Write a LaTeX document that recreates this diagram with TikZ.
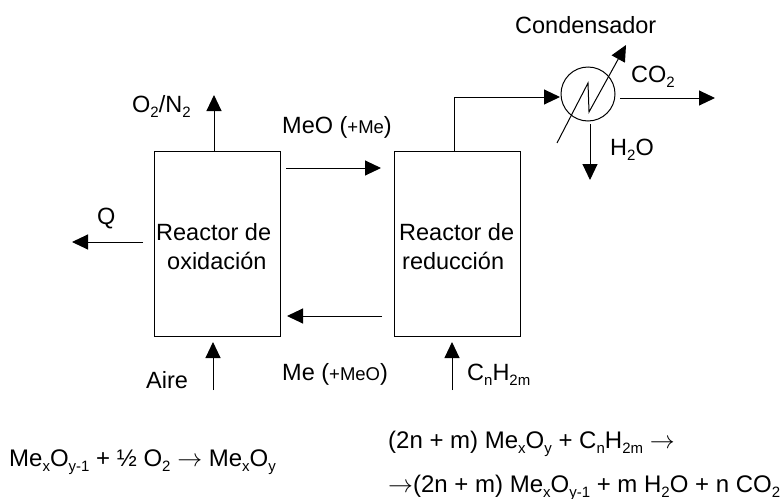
\documentclass[tikz,border=0pt]{standalone}
\usepackage{fontspec}
\setmainfont{Liberation Sans}
\usetikzlibrary{arrows.meta}
\newcommand{\sbs}[1]{\raisebox{-5.5pt}{\fontsize{15}{15}\selectfont #1}}
\newcommand{\smt}[1]{{\fontsize{18.5}{18.5}\selectfont #1}}
\newcommand{\arr}{$\rightarrow$}
\tikzset{
  pxtext/.style={inner sep=0pt,anchor=base west,font=\fontsize{23.5}{29}\selectfont},
  eqtext/.style={inner sep=0pt,anchor=base west,font=\fontsize{24}{29}\selectfont},
  reactor/.style={draw,line width=1pt,minimum width=126pt,minimum height=185pt,inner sep=0pt},
  flow/.style={line width=1pt,-{Triangle[length=16pt,width=15pt]}},
}
\begin{document}
\begin{tikzpicture}[x=1pt,y=-1pt]
\useasboundingbox (0,0) rectangle (781,498);
\node[reactor] (ox) at (217,243.5) {};
\node[reactor] (red) at (457,243.5) {};
\node[draw,circle,line width=1pt,minimum size=54pt,inner sep=0pt] (cond) at (588,94) {};
\coordinate (o2end) at (214,95);
\coordinate (qs) at (143,242); \coordinate (qe) at (72,242);
\coordinate (ms) at (286,168); \coordinate (me) at (381,168);
\coordinate (ns) at (382,316); \coordinate (ne) at (287,316);
\coordinate (as) at (213,390); \coordinate (ae) at (213,342);
\coordinate (cs) at (452,390); \coordinate (ce) at (452,342);
\coordinate (corner) at (454,97);
\coordinate (cin) at (560,97);
\coordinate (co2s) at (620,98); \coordinate (co2e) at (715,98);
\coordinate (hs) at (590,124); \coordinate (he) at (590,180);
\coordinate (z0) at (557,143); \coordinate (z1) at (588,83); \coordinate (z2) at (589,112); \coordinate (z3) at (626,45);
\draw[flow] (ox.north -| o2end) -- (o2end);
\draw[flow] (qs) -- (qe);
\draw[flow] (ms) -- (me);
\draw[flow] (ns) -- (ne);
\draw[flow] (as) -- (ae);
\draw[flow] (cs) -- (ce);
\draw[flow] (red.north -| corner) -- (corner) -- (cin);
\draw[flow] (co2s) -- (co2e);
\draw[flow] (hs) -- (he);
\draw[flow] (z0) -- (z1) -- (z2) -- (z3);
\node[pxtext] (r1) at (156,240) {Reactor de};
\node[pxtext] (r2) at (167,269) {oxidación};
\node[pxtext] (r3) at (399,240) {Reactor de};
\node[pxtext] (r4) at (402,269) {reducción};
\node[pxtext] (t1) at (515,33) {Condensador};
\node[pxtext] (t2) at (631,82) {CO\sbs{2}};
\node[pxtext] (t3) at (610,155) {H\sbs{2}O};
\node[pxtext] (t4) at (132,112) {O\sbs{2}/N\sbs{2}};
\node[pxtext] (t5) at (282,133) {MeO (\smt{+Me})};
\node[pxtext] (t6) at (97,224) {Q};
\node[pxtext] (t7) at (146,388) {Aire};
\node[pxtext] (t8) at (282,380) {Me (\smt{+MeO})};
\node[pxtext] (t9) at (467,380) {C\sbs{n}H\sbs{2m}};
\node[eqtext] (t10) at (9,466) {Me\sbs{x}O\sbs{y-1} + ½ O\sbs{2} \arr{} Me\sbs{x}O\sbs{y}};
\node[eqtext] (t11) at (388,448) {(2n + m) Me\sbs{x}O\sbs{y} + C\sbs{n}H\sbs{2m} \arr};
\node[eqtext] (t12) at (388,492) {\arr(2n + m) Me\sbs{x}O\sbs{y-1} + m H\sbs{2}O + n CO\sbs{2}};
\end{tikzpicture}
\end{document}
